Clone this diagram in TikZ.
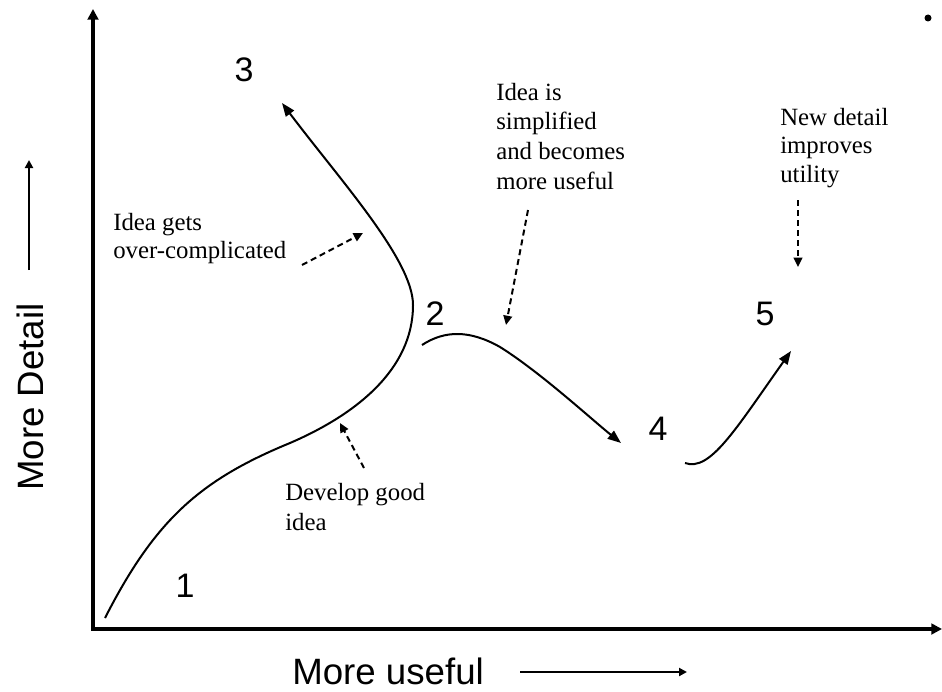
\documentclass[tikz,border=0pt]{standalone}
\usepackage{fontspec}
\setmainfont{Liberation Serif}
\newfontfamily\sansf{Liberation Sans}
\usetikzlibrary{arrows.meta}
\begin{document}
\begin{tikzpicture}[x=0.75pt,y=-0.75pt,
  axisline/.style={line width=3.2pt},
  curveline/.style={line width=1.5pt,-{Triangle[length=10pt,width=7.5pt]}},
  dashline/.style={line width=1.5pt,dash pattern=on 4.5pt off 3pt,-{Triangle[length=7pt,width=6.5pt]}},
  guide/.style={line width=1.6pt,-{Triangle[length=6pt,width=6pt]}},
  digit/.style={font=\sansf\fontsize{25.5}{30}\selectfont,inner sep=0pt},
  axlabel/.style={font=\sansf\fontsize{27.5}{32}\selectfont,inner sep=0pt},
  note/.style={inner sep=0pt,anchor=base west}]
\useasboundingbox (0,0) rectangle (942,692);
% axes
\coordinate (ytop) at (93,9);
\coordinate (origin) at (93,629);
\coordinate (xend) at (942,629);
\draw[axisline,{Triangle[length=8pt,width=8pt]}-{Triangle[length=8pt,width=8pt]}] (ytop) -- (origin) -- (xend);
% dot top right
\fill (928,18) circle (3.5);
% axis labels
\node[axlabel,rotate=90] (ylab) at (30,397) {More Detail};
\coordinate (yarrA) at (29,270);
\coordinate (yarrB) at (29,160);
\draw[guide] (yarrA) -- (yarrB);
\node[axlabel,anchor=base west] (xlab) at (292,684) {More useful};
\coordinate (xarrA) at (520,672);
\coordinate (xarrB) at (687,672);
\draw[guide] (xarrA) -- (xarrB);
% digits
\node[digit] (n1) at (185,586) {1};
\node[digit] (n2) at (435,314) {2};
\node[digit] (n3) at (244,70) {3};
\node[digit] (n4) at (658,429) {4};
\node[digit] (n5) at (765,314) {5};
% curves
\coordinate (c1s) at (105,618);
\coordinate (c1e) at (282,103);
\draw[curveline] (c1s) .. controls (155,520) and (200,480) .. (290,443)
  .. controls (355,415) and (413,370) .. (413,305)
  .. controls (413,260) and (340,180) .. (c1e);
\coordinate (c2s) at (422,345);
\coordinate (c2e) at (621,443);
\draw[curveline] (c2s) .. controls (445,330) and (470,330) .. (500,347)
  .. controls (540,372) and (590,418) .. (c2e);
\coordinate (c3s) at (685,463);
\coordinate (c3e) at (791,351);
\draw[curveline] (c3s) .. controls (710,472) and (735,430) .. (c3e);
% notes
\node[note] (over) at (113,230) {\fontsize{18.6}{21}\selectfont\begin{tabular}[t]{@{}l@{}}Idea gets\\over-complicated\end{tabular}};
\node[note] (simp) at (496,100) {\fontsize{18.6}{22.3}\selectfont\begin{tabular}[t]{@{}l@{}}Idea is\\simplified\\and becomes\\more useful\end{tabular}};
\node[note] (newd) at (780,125) {\fontsize{18.6}{21.4}\selectfont\begin{tabular}[t]{@{}l@{}}New detail\\improves\\utility\end{tabular}};
\node[note] (devl) at (285,500) {\fontsize{18.6}{23}\selectfont\begin{tabular}[t]{@{}l@{}}Develop good\\idea\end{tabular}};
% dashed pointers
\coordinate (overA) at (302,265); \coordinate (overB) at (363,233);
\coordinate (simpA) at (528,210); \coordinate (simpB) at (506,325);
\coordinate (newdA) at (798,200); \coordinate (newdB) at (798,267);
\coordinate (devlA) at (364,468); \coordinate (devlB) at (340,423);
\draw[dashline] (overA) -- (overB);
\draw[dashline] (simpA) -- (simpB);
\draw[dashline] (newdA) -- (newdB);
\draw[dashline] (devlA) -- (devlB);
\end{tikzpicture}
\end{document}
